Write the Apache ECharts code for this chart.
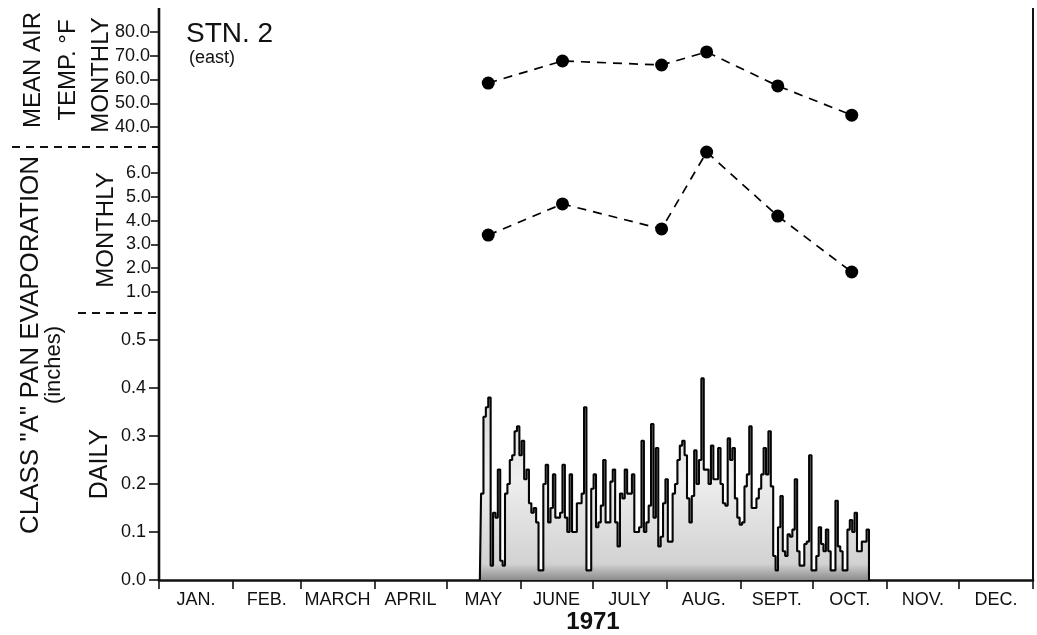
<!DOCTYPE html>
<html>
<head>
<meta charset="utf-8">
<script src="https://cdn.jsdelivr.net/npm/echarts@6/dist/echarts.min.js"></script>
<style>
  html, body { margin: 0; padding: 0; background: #ffffff; }
  #chart { width: 1037px; height: 635px; }
</style>
</head>
<body>
<div id="chart"></div>
<script>
// Station 2 (east), 1971: monthly mean air temperature, monthly and daily
// class "A" pan evaporation, plotted against day of year.

const monthNames = ['JAN.', 'FEB.', 'MARCH', 'APRIL', 'MAY', 'JUNE', 'JULY', 'AUG.', 'SEPT.', 'OCT.', 'NOV.', 'DEC.'];
const monthStartDays = [0, 31, 59, 90, 120, 151, 181, 212, 243, 273, 304, 334, 365];

// Monthly values (day of year where each monthly point is plotted)
const monthlyDays = [137.5, 168.5, 209.9, 228.7, 258.4, 289.3];
const meanAirTempF = [58.5, 67.8, 66.1, 71.6, 57.3, 45.0];
const monthlyPanEvapIn = [3.39, 4.70, 3.65, 6.88, 4.19, 1.84];

// Axis tick settings
const tempTicks = { min: 40, max: 80, step: 10 };
const monthlyEvapTicks = { min: 1, max: 6, step: 1 };
const dailyEvapTicks = { min: 0, max: 0.5, step: 0.1 };

// Daily pan evaporation (inches), one value per day from day 134
const dailyFirstDay = 134;
const dailyPanEvapIn = [
  0.00, 0.18, 0.34, 0.36, 0.38, 0.03, 0.14, 0.13, 0.23, 0.04,
  0.03, 0.18, 0.20, 0.25, 0.26, 0.31, 0.32, 0.26, 0.29, 0.21,
  0.23, 0.16, 0.14, 0.15, 0.12, 0.02, 0.02, 0.20, 0.24, 0.12,
  0.15, 0.22, 0.13, 0.13, 0.14, 0.24, 0.13, 0.10, 0.22, 0.10,
  0.10, 0.16, 0.16, 0.18, 0.36, 0.02, 0.02, 0.19, 0.22, 0.11,
  0.12, 0.155, 0.25, 0.12, 0.12, 0.205, 0.23, 0.12, 0.07, 0.18,
  0.17, 0.23, 0.18, 0.18, 0.22, 0.10, 0.10, 0.11, 0.29, 0.10,
  0.12, 0.155, 0.325, 0.13, 0.275, 0.07, 0.09, 0.16, 0.21, 0.08,
  0.08, 0.18, 0.20, 0.25, 0.28, 0.29, 0.26, 0.17, 0.12, 0.175,
  0.27, 0.20, 0.25, 0.42, 0.23, 0.23, 0.20, 0.28, 0.21, 0.21,
  0.275, 0.20, 0.16, 0.155, 0.295, 0.25, 0.275, 0.17, 0.13, 0.115,
  0.12, 0.195, 0.22, 0.32, 0.15, 0.15, 0.17, 0.19, 0.22, 0.275,
  0.22, 0.31, 0.195, 0.05, 0.02, 0.11, 0.175, 0.06, 0.05, 0.095,
  0.09, 0.105, 0.21, 0.06, 0.03, 0.03, 0.075, 0.08, 0.26, 0.02,
  0.02, 0.05, 0.11, 0.075, 0.06, 0.105, 0.06, 0.02, 0.02, 0.165,
  0.07, 0.06, 0.02, 0.02, 0.105, 0.125, 0.10, 0.14, 0.06, 0.06,
  0.08, 0.08, 0.105, 0.00
];

const FONT = "'Liberation Sans', Arial, sans-serif";
const INK = '#111111';

const monthLabelDays = monthNames.map((_, i) => (monthStartDays[i] + monthStartDays[i + 1]) / 2);

const plotLeft = 159, plotWidth = 874;
const grids = [
  { left: plotLeft, width: plotWidth, top: 32, height: 95 },
  { left: plotLeft, width: plotWidth, top: 173, height: 119 },
  { left: plotLeft, width: plotWidth, top: 340, height: 240 }
];

function xAxisFor(gridIndex, visible) {
  const ax = { type: 'value', gridIndex, min: 0, max: 365, splitLine: { show: false } };
  if (!visible) { ax.show = false; return ax; }
  return Object.assign(ax, {
    axisLine: { show: true, lineStyle: { color: INK, width: 2.6 } },
    axisTick: { show: true, customValues: monthStartDays, length: 9, inside: false,
                lineStyle: { color: INK, width: 1.6 } },
    axisLabel: {
      show: true, customValues: monthLabelDays, margin: 11,
      fontFamily: FONT, fontSize: 18, color: INK,
      formatter: (v) => monthNames[monthLabelDays.indexOf(v)] || ''
    }
  });
}

function yAxisFor(gridIndex, t, margin, tickLen) {
  return {
    type: 'value', gridIndex, min: t.min, max: t.max, interval: t.step,
    splitLine: { show: false },
    axisLine: { show: false },
    axisTick: { show: true, length: tickLen, inside: false, lineStyle: { color: INK, width: 1.6 } },
    axisLabel: { margin, fontFamily: FONT, fontSize: 18, color: INK,
                 formatter: (v) => Number(v).toFixed(1) }
  };
}

function pairs(xs, ys) { return xs.map((x, i) => [x, ys[i]]); }

const dailyData = dailyPanEvapIn.map((v, i) => [dailyFirstDay + i, v]);

function vText(text, x, y, size) {
  return { type: 'text', x, y, rotation: Math.PI / 2, silent: true,
           style: { text, fontFamily: FONT, fontSize: size, fill: INK, align: 'center', verticalAlign: 'middle' } };
}
function hText(text, x, y, size, weight) {
  return { type: 'text', x, y, silent: true,
           style: { text, fontFamily: FONT, fontSize: size, fontWeight: weight || 'normal', fill: INK,
                    align: 'left', verticalAlign: 'middle' } };
}

const chart = echarts.init(document.getElementById('chart'), null, { renderer: 'canvas' });

chart.setOption({
  animation: false,
  backgroundColor: '#ffffff',
  grid: grids,
  xAxis: [xAxisFor(0, false), xAxisFor(1, false), xAxisFor(2, true)],
  yAxis: [
    yAxisFor(0, tempTicks, 9, 9),
    yAxisFor(1, monthlyEvapTicks, 8, 8),
    yAxisFor(2, dailyEvapTicks, 13, 10)
  ],
  series: [
    {
      name: 'Mean air temp', type: 'line', xAxisIndex: 0, yAxisIndex: 0, clip: false,
      data: pairs(monthlyDays, meanAirTempF),
      symbol: 'circle', symbolSize: 13, itemStyle: { color: '#000' },
      lineStyle: { color: '#000', width: 1.7, type: [9, 7] }
    },
    {
      name: 'Monthly evaporation', type: 'line', xAxisIndex: 1, yAxisIndex: 1, clip: false,
      data: pairs(monthlyDays, monthlyPanEvapIn),
      symbol: 'circle', symbolSize: 13, itemStyle: { color: '#000' },
      lineStyle: { color: '#000', width: 1.7, type: [9, 7] }
    },
    {
      name: 'Daily evaporation', type: 'line', xAxisIndex: 2, yAxisIndex: 2,
      data: dailyData, step: 'middle', symbol: 'none',
      lineStyle: { color: '#050505', width: 2.1 },
      areaStyle: {
        opacity: 1,
        color: new echarts.graphic.LinearGradient(0, 0, 0, 1, [
          { offset: 0, color: '#d6d6d6' },
          { offset: 0.5, color: '#eeeeee' },
          { offset: 0.92, color: '#d2d2d2' },
          { offset: 1, color: '#8c8c8c' }
        ])
      }
    }
  ],
  graphic: [
    // frame
    { type: 'line', silent: true, shape: { x1: plotLeft, y1: 8, x2: plotLeft, y2: 581 },
      style: { stroke: INK, lineWidth: 2.6 } },
    { type: 'line', silent: true, shape: { x1: plotLeft + plotWidth, y1: 8, x2: plotLeft + plotWidth, y2: 581 },
      style: { stroke: INK, lineWidth: 2 } },
    // panel separators
    { type: 'line', silent: true, shape: { x1: 12, y1: 147, x2: plotLeft, y2: 147 },
      style: { stroke: INK, lineWidth: 2, lineDash: [8, 6] } },
    { type: 'line', silent: true, shape: { x1: 78, y1: 313, x2: plotLeft, y2: 313 },
      style: { stroke: INK, lineWidth: 2, lineDash: [8, 6] } },
    // axis titles
    vText('MEAN AIR', 33, 70, 24),
    vText('TEMP. °F', 68, 70, 24),
    vText('MONTHLY', 101, 75, 24),
    vText('CLASS "A" PAN EVAPORATION', 31, 345, 26),
    vText('(inches)', 54, 365, 22),
    vText('MONTHLY', 106, 230, 24),
    vText('DAILY', 100, 464, 25),
    // station caption and year
    hText('STN. 2', 186, 34, 28),
    hText('(east)', 189, 58, 18),
    { type: 'text', x: 593, y: 622, silent: true,
      style: { text: '1971', fontFamily: FONT, fontSize: 24, fontWeight: 'bold', fill: INK,
               align: 'center', verticalAlign: 'middle' } }
  ]
});
</script>
</body>
</html>
